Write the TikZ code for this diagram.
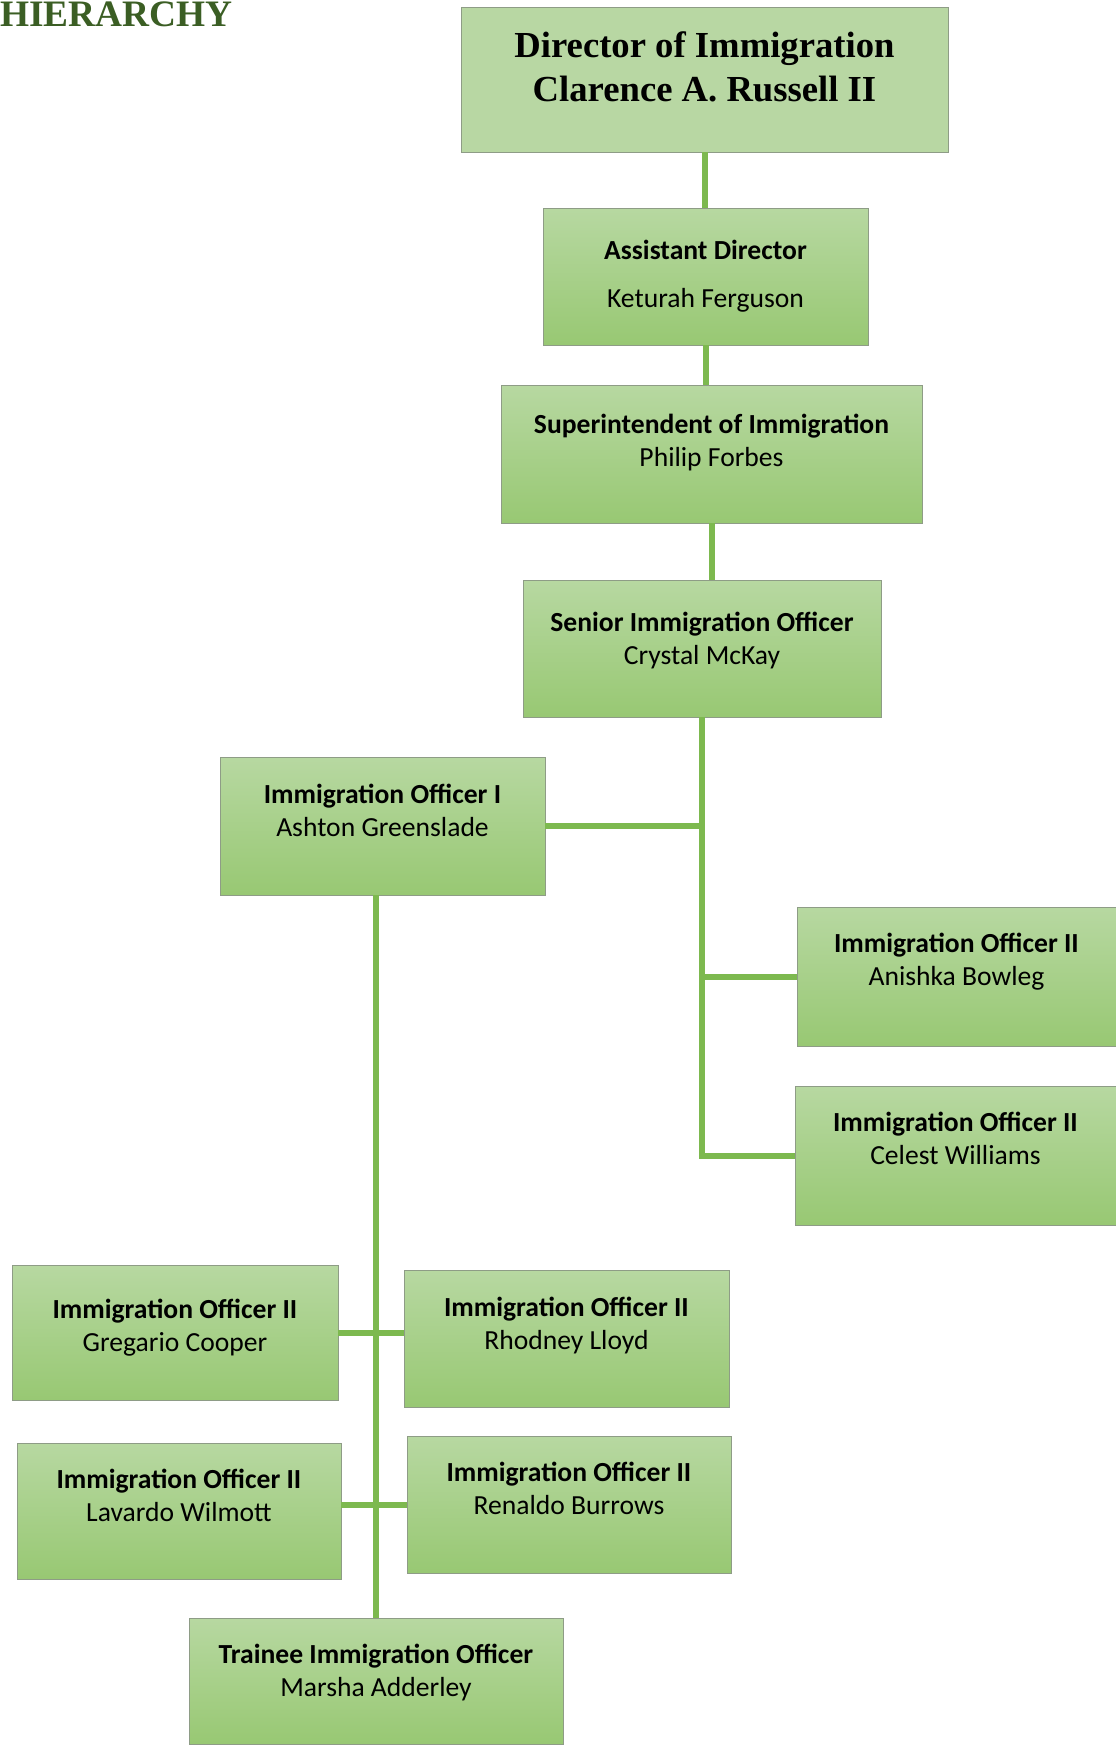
\documentclass[tikz,border=0pt]{standalone}
\usepackage{fontspec}
\setmainfont{Carlito}
\newfontfamily\serifhead{Liberation Serif}
\usepackage{tikz}

\definecolor{cardtop}{HTML}{B7D8A1}
\definecolor{cardbot}{HTML}{98C873}
\definecolor{cardline}{HTML}{8E9C86}
\definecolor{dirfill}{HTML}{B8D7A3}
\definecolor{linkgreen}{HTML}{7DB94F}
\definecolor{headgreen}{HTML}{3B5E24}

\newdimen\px \px=0.75pt
% box of #1 x #2 px, first baseline #3 px below the top
\newcommand{\card}[4]{\parbox[c][#2\px][t]{#1\px}{\centering\vspace*{\dimexpr#3\px-0.85em\relax}\rule{0pt}{0.85em}#4}}

\begin{document}
\begin{tikzpicture}[x=0.75pt, y=-0.75pt, head/.style={anchor=base west, inner sep=0, text=headgreen, font=\serifhead\bfseries\fontsize{28}{30}\selectfont}, boss/.style={draw=cardline, fill=dirfill, inner sep=0, font=\serifhead\bfseries\fontsize{27.5}{33}\selectfont}, card/.style={draw=cardline, top color=cardtop, bottom color=cardbot, inner sep=0, font=\fontsize{20.7}{24.75}\selectfont}, link/.style={draw=linkgreen, line width=4.5pt}]
            \useasboundingbox (0,0) rectangle (1116,1754);
            % nodes
            \node[head] (title) at (0,26) {HIERARCHY};
            \node[boss] (dir) at (704.5,79.5) {\card{487}{145}{50}{Director of Immigration\\Clarence A. Russell II}};
            \node[card] (ad) at (705.5,276.5) {\card{325}{137}{51}{\textbf{Assistant Director}\\[11.5pt]Keturah Ferguson}};
            \node[card] (sup) at (711.5,454) {\card{421}{138}{48}{\textbf{Superintendent of Immigration}\\Philip Forbes}};
            \node[card] (sio) at (702,648.5) {\card{358}{137}{51}{\textbf{Senior Immigration Officer}\\Crystal McKay}};
            \node[card] (io1) at (382.5,826) {\card{325}{138}{46}{\textbf{Immigration Officer I}\\Ashton Greenslade}};
            \node[card] (ab) at (956.5,976.5) {\card{319}{139}{45}{\textbf{Immigration Officer II}\\Anishka Bowleg}};
            \node[card] (cw) at (955.5,1155.5) {\card{321}{139}{45}{\textbf{Immigration Officer II}\\Celest Williams}};
            \node[card] (gc) at (175,1332.5) {\card{326}{135}{53}{\textbf{Immigration Officer II}\\Gregario Cooper}};
            \node[card] (rl) at (566.5,1338.5) {\card{325}{137}{46}{\textbf{Immigration Officer II}\\Rhodney Lloyd}};
            \node[card] (lw) at (179,1511) {\card{324}{136}{45}{\textbf{Immigration Officer II}\\Lavardo Wilmott}};
            \node[card] (rb) at (569,1504.5) {\card{324}{137}{45}{\textbf{Immigration Officer II}\\Renaldo Burrows}};
            \node[card] (tio) at (376,1681) {\card{374}{126}{45}{\textbf{Trainee Immigration Officer}\\Marsha Adderley}};
            % edges
            \draw[link] (dir.south) -- (dir.south |- ad.north);
            \draw[link] (ad.south) -- (ad.south |- sup.north);
            \draw[link] (sup.south) -- (sup.south |- sio.north);
            \draw[link] (sio.south) |- (cw.west);
            \draw[link] (io1.east) -- (io1.east -| sio.south);
            \draw[link] (ab.west) -- (ab.west -| sio.south);
            \draw[link] (tio.north) -- (tio.north |- io1.south);
            \draw[link] (gc.east) -- (gc.east -| rl.west);
            \draw[link] (lw.east |- rb.west) -- (rb.west);
        \end{tikzpicture}
\end{document}
